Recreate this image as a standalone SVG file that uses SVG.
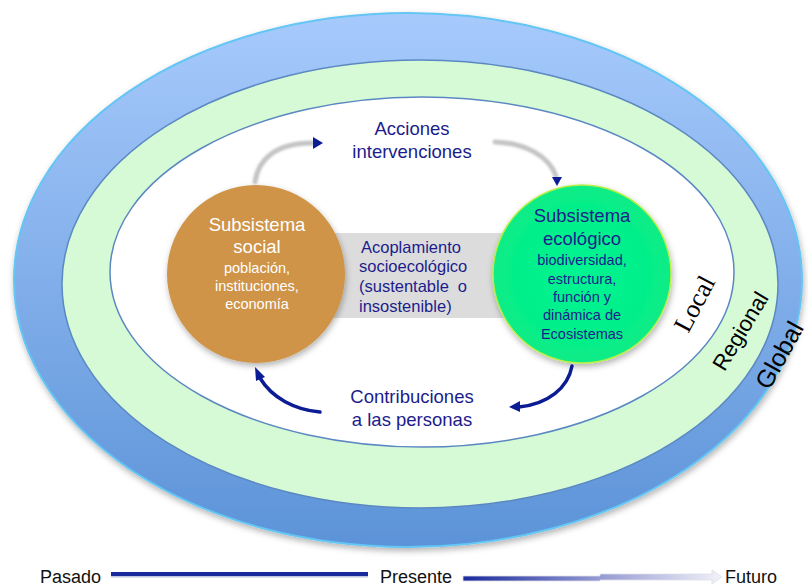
<svg xmlns="http://www.w3.org/2000/svg" width="808" height="587" viewBox="0 0 808 587">
<defs>
<style>
.t{font-family:"Liberation Sans",Arial,sans-serif;text-anchor:middle}
.navy{fill:#1c1c8c}
.big{font-size:18.5px}
.small{font-size:14.5px}
.mid{font-size:16.5px}
.tl{font-family:"Liberation Sans",Arial,sans-serif;font-size:18px;fill:#111}
.gray{fill:none;stroke:#c4c4c4;stroke-width:5;stroke-linecap:round;filter:url(#blur)}
.nav{fill:none;stroke:#0c1c94;stroke-width:3.5;stroke-linecap:round}
.head{fill:#0c1c94}
</style>
<linearGradient id="gBlue" x1="0" y1="0" x2="0" y2="1">
<stop offset="0" stop-color="#a7cafc"/>
<stop offset="1" stop-color="#5c93d8"/>
</linearGradient>
<radialGradient id="gEco" cx="0.5" cy="0.5" r="0.5">
<stop offset="0" stop-color="#00f592"/>
<stop offset="1" stop-color="#08ec86"/>
</radialGradient>
<linearGradient id="gTime" x1="0" y1="0" x2="1" y2="0">
<stop offset="0" stop-color="#1a2a9c"/>
<stop offset="0.5" stop-color="#8f95d0"/>
<stop offset="1" stop-color="#f2f2f8"/>
</linearGradient>
<filter id="sh" x="-10%" y="-10%" width="120%" height="125%">
<feDropShadow dx="1" dy="3" stdDeviation="3" flood-color="#000" flood-opacity="0.3"/>
</filter>
<filter id="blur" x="-20%" y="-20%" width="140%" height="140%">
<feGaussianBlur stdDeviation="1"/>
</filter>
</defs>
<rect width="808" height="587" fill="#fff"/>

<g id="global">
<ellipse cx="408" cy="280" rx="394" ry="267" fill="url(#gBlue)" stroke="#64c6f4" stroke-width="2" filter="url(#sh)"/>
</g>
<g id="regional">
<ellipse cx="420" cy="284" rx="358" ry="224" fill="#d5fad5" stroke="#5b88c2" stroke-width="1.5"/>
</g>
<g id="local">
<ellipse cx="422" cy="272" rx="312" ry="175" fill="#fff" stroke="#5b88c2" stroke-width="1.5"/>
</g>

<g id="acoplamiento">
<rect x="330" y="233" width="175" height="85" fill="#dcdcdc"/>
<text class="t navy mid" style="text-anchor:start" x="361" y="253">Acoplamiento</text>
<text class="t navy mid" style="text-anchor:start" x="359" y="272">socioecológico</text>
<text class="t navy mid" style="text-anchor:start" x="359" y="292">(sustentable</text>
<text class="t navy mid" style="text-anchor:end" x="467" y="292">o</text>
<text class="t navy mid" style="text-anchor:start" x="359" y="312">insostenible)</text>
</g>

<g id="social">
<circle cx="256" cy="274" r="89" fill="#cf9447" filter="url(#sh)"/>
<text class="t big" fill="#fff" x="257" y="231">Subsistema</text>
<text class="t big" fill="#fff" x="257" y="253">social</text>
<text class="t small" fill="#fff" x="257" y="273">población,</text>
<text class="t small" fill="#fff" x="257" y="291">instituciones,</text>
<text class="t small" fill="#fff" x="257" y="309">economía</text>
</g>

<g id="ecologico">
<circle cx="582" cy="274" r="89" fill="url(#gEco)" stroke="#b4f046" stroke-width="1.5" filter="url(#sh)"/>
<text class="t navy big" x="582" y="222">Subsistema</text>
<text class="t navy big" x="582" y="245">ecológico</text>
<text class="t navy small" x="582" y="265">biodiversidad,</text>
<text class="t navy small" x="582" y="284">estructura,</text>
<text class="t navy small" x="582" y="302">función y</text>
<text class="t navy small" x="582" y="320">dinámica de</text>
<text class="t navy small" x="582" y="339">Ecosistemas</text>
</g>

<g id="labels">
<text class="t navy big" x="412" y="135">Acciones</text>
<text class="t navy big" x="412" y="158">intervenciones</text>
<text class="t navy big" x="412" y="403">Contribuciones</text>
<text class="t navy big" x="412" y="426">a las personas</text>
<text transform="translate(695,304) rotate(-62)" x="0" y="8" style="font-family:'Liberation Serif','Times New Roman',serif;font-size:26px;text-anchor:middle" fill="#000">Local</text>
<text transform="translate(740,331) rotate(-59)" x="0" y="8" class="t" style="font-size:22px" fill="#000">Regional</text>
<text transform="translate(779,355) rotate(-61)" x="0" y="9" class="t" style="font-size:25px" fill="#000">Global</text>
</g>

<g id="connectors">
<path class="gray" d="M255,182 C258,160 275,143 312,143"/>
<path class="head" d="M313,137 L323,143 L313,149 Z"/>
<path class="gray" d="M495,142 C525,143 549,156 556,176"/>
<path class="head" d="M552,177 L562,177 L557,186 Z"/>
<path class="nav" d="M320,412 C295,410 272,398 260,378"/>
<path class="head" d="M255,367 L265,377 L256,381 Z"/>
<path class="nav" d="M572,366 C568,388 548,404 519,407"/>
<path class="head" d="M509,407 L520,401 L520,412 Z"/>
</g>

<g id="timeline">
<text class="tl" x="40" y="583">Pasado</text>
<rect x="111" y="572" width="257" height="4" fill="#1a2a9c"/>
<rect x="111" y="576" width="257" height="1.5" fill="#9aa0c8" opacity="0.6"/>
<text class="tl" x="380" y="583">Presente</text>
<path d="M463,576 L600,576 L600,574 L712,574 L712,570 L722,577 L712,584 L712,580 L600,580 L600,581 L463,581 Z" fill="url(#gTime)" stroke="#e0e0ea" stroke-width="0.8"/>
<text class="tl" x="725" y="583">Futuro</text>
</g>
</svg>
